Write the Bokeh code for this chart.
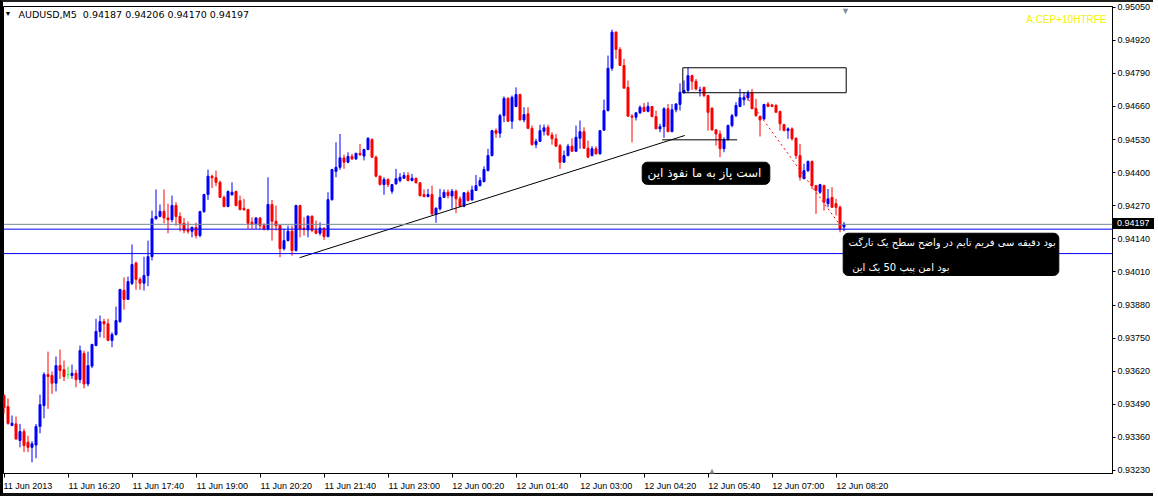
from bokeh.plotting import figure
from bokeh.models import (ColumnDataSource, Range1d, FixedTicker, PrintfTickFormatter,
                          Span, Label, BoxAnnotation, InlineStyleSheet)
from bokeh.embed import file_html
from bokeh.resources import INLINE

# ---------------- data (AUDUSD, M5, bars from 11 Jun 2013 15:00) ----------------
symbol = "AUDUSD,M5"
ea_name = "A:CEP+10HTRFE"

open_ = [
    0.93524, 0.93481, 0.93407, 0.93413, 0.93348, 0.93383, 0.93341, 0.93321, 0.93330, 0.93403,
    0.93485, 0.93607, 0.93603, 0.93573, 0.93642, 0.93626, 0.93607, 0.93603, 0.93612, 0.93587,
    0.93690, 0.93570, 0.93640, 0.93721, 0.93776, 0.93815, 0.93806, 0.93741, 0.93764, 0.93815,
    0.93938, 0.93902, 0.93965, 0.94045, 0.93981, 0.93966, 0.93996, 0.94070, 0.94219, 0.94228,
    0.94248, 0.94222, 0.94215, 0.94271, 0.94228, 0.94201, 0.94175, 0.94170, 0.94185, 0.94153,
    0.94247, 0.94314, 0.94386, 0.94380, 0.94362, 0.94303, 0.94267, 0.94313, 0.94326, 0.94290,
    0.94260, 0.94255, 0.94205, 0.94199, 0.94222, 0.94192, 0.94179, 0.94275, 0.94209, 0.94192,
    0.94101, 0.94133, 0.94170, 0.94094, 0.94271, 0.94182, 0.94175, 0.94229, 0.94173, 0.94162,
    0.94182, 0.94149, 0.94294, 0.94405, 0.94421, 0.94458, 0.94441, 0.94464, 0.94454, 0.94476,
    0.94465, 0.94491, 0.94530, 0.94461, 0.94386, 0.94353, 0.94373, 0.94327, 0.94356, 0.94369,
    0.94378, 0.94389, 0.94369, 0.94378, 0.94360, 0.94314, 0.94306, 0.94314, 0.94236, 0.94258,
    0.94303, 0.94323, 0.94308, 0.94327, 0.94297, 0.94268, 0.94321, 0.94293, 0.94330, 0.94349,
    0.94365, 0.94408, 0.94467, 0.94565, 0.94555, 0.94624, 0.94692, 0.94602, 0.94660, 0.94707,
    0.94607, 0.94631, 0.94574, 0.94510, 0.94523, 0.94563, 0.94578, 0.94548, 0.94533, 0.94506,
    0.94441, 0.94467, 0.94504, 0.94484, 0.94535, 0.94561, 0.94496, 0.94467, 0.94494, 0.94474,
    0.94567, 0.94644, 0.94810, 0.94952, 0.94884, 0.94821, 0.94735, 0.94622, 0.94618, 0.94635,
    0.94657, 0.94641, 0.94660, 0.94620, 0.94572, 0.94581, 0.94651, 0.94561, 0.94647, 0.94668,
    0.94714, 0.94723, 0.94781, 0.94759, 0.94722, 0.94735, 0.94703, 0.94653, 0.94568, 0.94552,
    0.94494, 0.94530, 0.94585, 0.94624, 0.94660, 0.94686, 0.94694, 0.94713, 0.94651, 0.94620,
    0.94611, 0.94670, 0.94666, 0.94664, 0.94640, 0.94589, 0.94565, 0.94572, 0.94535, 0.94467,
    0.94376, 0.94408, 0.94444, 0.94349, 0.94323, 0.94349, 0.94278, 0.94303, 0.94278, 0.94264,
    0.94187,
]
high_ = [
    0.93530, 0.93513, 0.93446, 0.93442, 0.93413, 0.93394, 0.93367, 0.93345, 0.93413, 0.93528,
    0.93616, 0.93697, 0.93619, 0.93678, 0.93705, 0.93662, 0.93638, 0.93646, 0.93626, 0.93721,
    0.93701, 0.93697, 0.93728, 0.93826, 0.93839, 0.93826, 0.93826, 0.93773, 0.93874, 0.93944,
    0.93989, 0.93992, 0.94118, 0.94051, 0.93989, 0.94070, 0.94133, 0.94251, 0.94334, 0.94275,
    0.94334, 0.94278, 0.94310, 0.94284, 0.94244, 0.94222, 0.94208, 0.94188, 0.94203, 0.94250,
    0.94317, 0.94412, 0.94392, 0.94408, 0.94369, 0.94310, 0.94330, 0.94362, 0.94330, 0.94310,
    0.94297, 0.94258, 0.94225, 0.94225, 0.94225, 0.94201, 0.94382, 0.94293, 0.94271, 0.94194,
    0.94179, 0.94192, 0.94192, 0.94274, 0.94274, 0.94225, 0.94232, 0.94232, 0.94212, 0.94205,
    0.94185, 0.94323, 0.94415, 0.94519, 0.94552, 0.94471, 0.94480, 0.94474, 0.94478, 0.94513,
    0.94494, 0.94539, 0.94535, 0.94467, 0.94389, 0.94382, 0.94378, 0.94356, 0.94415, 0.94398,
    0.94402, 0.94402, 0.94395, 0.94380, 0.94362, 0.94334, 0.94336, 0.94349, 0.94264, 0.94336,
    0.94334, 0.94334, 0.94336, 0.94334, 0.94307, 0.94323, 0.94330, 0.94349, 0.94391, 0.94382,
    0.94425, 0.94494, 0.94568, 0.94574, 0.94631, 0.94699, 0.94696, 0.94703, 0.94735, 0.94710,
    0.94657, 0.94657, 0.94585, 0.94533, 0.94588, 0.94589, 0.94588, 0.94559, 0.94552, 0.94513,
    0.94487, 0.94513, 0.94535, 0.94585, 0.94605, 0.94578, 0.94526, 0.94504, 0.94504, 0.94565,
    0.94687, 0.94860, 0.94962, 0.94955, 0.94893, 0.94847, 0.94762, 0.94630, 0.94637, 0.94664,
    0.94674, 0.94677, 0.94662, 0.94644, 0.94592, 0.94657, 0.94670, 0.94670, 0.94672, 0.94751,
    0.94762, 0.94812, 0.94785, 0.94768, 0.94738, 0.94738, 0.94706, 0.94657, 0.94572, 0.94565,
    0.94539, 0.94589, 0.94631, 0.94677, 0.94729, 0.94716, 0.94723, 0.94729, 0.94690, 0.94624,
    0.94670, 0.94677, 0.94670, 0.94670, 0.94644, 0.94592, 0.94578, 0.94578, 0.94539, 0.94513,
    0.94435, 0.94448, 0.94448, 0.94352, 0.94356, 0.94353, 0.94336, 0.94343, 0.94297, 0.94271,
    0.94206,
]
low_ = [
    0.93454, 0.93410, 0.93404, 0.93350, 0.93321, 0.93302, 0.93302, 0.93262, 0.93278, 0.93376,
    0.93435, 0.93472, 0.93531, 0.93541, 0.93590, 0.93581, 0.93590, 0.93590, 0.93557, 0.93573,
    0.93553, 0.93561, 0.93632, 0.93718, 0.93753, 0.93750, 0.93738, 0.93714, 0.93760, 0.93810,
    0.93862, 0.93900, 0.93958, 0.93940, 0.93940, 0.93937, 0.93954, 0.94055, 0.94215, 0.94225,
    0.94201, 0.94162, 0.94205, 0.94192, 0.94169, 0.94162, 0.94160, 0.94146, 0.94142, 0.94146,
    0.94242, 0.94293, 0.94339, 0.94347, 0.94301, 0.94264, 0.94264, 0.94310, 0.94267, 0.94252,
    0.94251, 0.94179, 0.94179, 0.94179, 0.94179, 0.94173, 0.94173, 0.94133, 0.94173, 0.94068,
    0.94094, 0.94130, 0.94074, 0.94090, 0.94146, 0.94153, 0.94146, 0.94166, 0.94158, 0.94153,
    0.94136, 0.94146, 0.94290, 0.94382, 0.94411, 0.94415, 0.94437, 0.94450, 0.94450, 0.94467,
    0.94448, 0.94488, 0.94458, 0.94382, 0.94350, 0.94313, 0.94343, 0.94317, 0.94353, 0.94362,
    0.94376, 0.94366, 0.94366, 0.94358, 0.94306, 0.94303, 0.94303, 0.94232, 0.94203, 0.94251,
    0.94300, 0.94299, 0.94258, 0.94241, 0.94264, 0.94264, 0.94288, 0.94290, 0.94328, 0.94346,
    0.94362, 0.94405, 0.94464, 0.94537, 0.94537, 0.94598, 0.94600, 0.94572, 0.94657, 0.94605,
    0.94598, 0.94572, 0.94506, 0.94496, 0.94520, 0.94546, 0.94546, 0.94510, 0.94502, 0.94415,
    0.94439, 0.94464, 0.94483, 0.94483, 0.94494, 0.94494, 0.94457, 0.94464, 0.94471, 0.94471,
    0.94565, 0.94640, 0.94800, 0.94847, 0.94819, 0.94730, 0.94620, 0.94519, 0.94605, 0.94631,
    0.94638, 0.94637, 0.94618, 0.94572, 0.94559, 0.94537, 0.94559, 0.94559, 0.94637, 0.94644,
    0.94710, 0.94716, 0.94725, 0.94723, 0.94699, 0.94696, 0.94565, 0.94565, 0.94506, 0.94461,
    0.94480, 0.94526, 0.94578, 0.94618, 0.94657, 0.94664, 0.94683, 0.94651, 0.94620, 0.94542,
    0.94607, 0.94657, 0.94657, 0.94637, 0.94565, 0.94563, 0.94533, 0.94526, 0.94454, 0.94369,
    0.94376, 0.94402, 0.94336, 0.94238, 0.94317, 0.94251, 0.94264, 0.94262, 0.94232, 0.94166,
    0.94170,
]
close_ = [
    0.93477, 0.93415, 0.93416, 0.93354, 0.93383, 0.93328, 0.93321, 0.93335, 0.93403, 0.93489,
    0.93607, 0.93599, 0.93573, 0.93642, 0.93623, 0.93599, 0.93607, 0.93612, 0.93587, 0.93701,
    0.93570, 0.93642, 0.93725, 0.93776, 0.93815, 0.93806, 0.93741, 0.93764, 0.93819, 0.93941,
    0.93902, 0.93972, 0.94039, 0.93981, 0.93966, 0.93996, 0.94070, 0.94219, 0.94228, 0.94248,
    0.94222, 0.94215, 0.94271, 0.94228, 0.94201, 0.94173, 0.94170, 0.94185, 0.94153, 0.94247,
    0.94314, 0.94386, 0.94380, 0.94362, 0.94303, 0.94267, 0.94326, 0.94323, 0.94271, 0.94255,
    0.94254, 0.94201, 0.94199, 0.94222, 0.94192, 0.94179, 0.94275, 0.94209, 0.94192, 0.94101,
    0.94133, 0.94170, 0.94094, 0.94271, 0.94179, 0.94177, 0.94229, 0.94173, 0.94162, 0.94182,
    0.94149, 0.94294, 0.94412, 0.94421, 0.94458, 0.94441, 0.94464, 0.94454, 0.94476, 0.94470,
    0.94491, 0.94535, 0.94461, 0.94386, 0.94353, 0.94373, 0.94353, 0.94353, 0.94376, 0.94382,
    0.94389, 0.94369, 0.94378, 0.94360, 0.94310, 0.94306, 0.94314, 0.94238, 0.94260, 0.94303,
    0.94323, 0.94310, 0.94327, 0.94297, 0.94268, 0.94321, 0.94290, 0.94332, 0.94349, 0.94369,
    0.94412, 0.94467, 0.94565, 0.94555, 0.94624, 0.94692, 0.94602, 0.94696, 0.94707, 0.94607,
    0.94628, 0.94574, 0.94510, 0.94523, 0.94565, 0.94576, 0.94548, 0.94533, 0.94504, 0.94441,
    0.94467, 0.94504, 0.94484, 0.94539, 0.94561, 0.94496, 0.94461, 0.94494, 0.94474, 0.94565,
    0.94644, 0.94810, 0.94952, 0.94884, 0.94821, 0.94732, 0.94622, 0.94618, 0.94635, 0.94657,
    0.94641, 0.94660, 0.94620, 0.94572, 0.94581, 0.94651, 0.94561, 0.94647, 0.94670, 0.94716,
    0.94723, 0.94781, 0.94759, 0.94729, 0.94725, 0.94703, 0.94637, 0.94568, 0.94552, 0.94494,
    0.94530, 0.94585, 0.94624, 0.94664, 0.94694, 0.94696, 0.94712, 0.94651, 0.94624, 0.94607,
    0.94668, 0.94660, 0.94660, 0.94637, 0.94592, 0.94565, 0.94572, 0.94533, 0.94467, 0.94382,
    0.94408, 0.94444, 0.94349, 0.94330, 0.94353, 0.94284, 0.94297, 0.94264, 0.94264, 0.94179,
    0.94197,
]

price_ticks = [0.93230, 0.93360, 0.93490, 0.93620, 0.93750, 0.93880, 0.94010, 0.94140,
               0.94270, 0.94400, 0.94530, 0.94660, 0.94790, 0.94920, 0.95050]
time_labels = ["11 Jun 2013", "11 Jun 16:20", "11 Jun 17:40", "11 Jun 19:00", "11 Jun 20:20",
               "11 Jun 21:40", "11 Jun 23:00", "12 Jun 00:20", "12 Jun 01:40", "12 Jun 03:00",
               "12 Jun 04:20", "12 Jun 05:40", "12 Jun 07:00", "12 Jun 08:20"]
time_label_bars = [0, 16, 32, 48, 64, 80, 96, 112, 128, 144, 160, 176, 192, 208]

last_price = 0.94197
level_lines = [0.94178, 0.94082]

# drawn objects (bar index, price)
trend_x = [73.9, 170.2]
trend_y = [0.94066, 0.94546]
zone_box = dict(left=169.7, right=210.55, top=0.94812, bottom=0.94714)
flat_x = [164.55, 183.3]
flat_y = [0.94529, 0.94529]
drop_x = [185.4, 209.6]
drop_y = [0.94703, 0.94181]

note1 = "این نفوذ ما به پاز است"
note2_line1 = "تارگت یک سطح واضح در تایم فریم سی دقیقه بود"
note2_line2 = "این یک 50 پیپ امن بود"
note1_box = dict(left=159.55, right=191.45, top=0.94441, bottom=0.94354)
note1_pos = (160.9, 0.94397)
note2_box = dict(left=209.8, right=263.7, top=0.94162, bottom=0.93996)
note2_pos1 = (211.1, 0.94126)
note2_pos2 = (212.05, 0.94029)

assert len(open_) == len(high_) == len(low_) == len(close_)

# ---------------- figure ----------------
FRAME_W, FRAME_H = 1109, 467
BORDER_TOP = 4
X_START = -0.125
X_END = X_START + FRAME_W / 4.0
Y0, Y1 = 0.932182, 0.950527

n = len(open_)
colors = ["#0000FF" if c > o else ("#FF0000" if c < o else "#00FF00")
          for o, c in zip(open_, close_)]
src = ColumnDataSource(dict(
    x=list(range(n)), h=high_, l=low_,
    top=[max(o, c) for o, c in zip(open_, close_)],
    bottom=[min(o, c) for o, c in zip(open_, close_)],
    color=colors,
))

# current price tag on the price scale (sits outside the plot frame)
tag_center = BORDER_TOP + (Y1 - last_price) / (Y1 - Y0) * FRAME_H
tag_css = InlineStyleSheet(css=f""":host::after {{
  content: "{last_price:.5f}";
  position: absolute;
  left: {FRAME_W + 1}px;
  top: {tag_center - 5.5:.1f}px;
  height: 11px;
  line-height: 11px;
  padding: 0 4px;
  background: #000000;
  color: #ffffff;
  font-family: "Liberation Sans", sans-serif;
  font-size: 9px;
  z-index: 10;
}}""")

p = figure(frame_width=FRAME_W, frame_height=FRAME_H,
           x_range=Range1d(X_START, X_END), y_range=Range1d(Y0, Y1),
           y_axis_location="right", toolbar_location=None, output_backend="svg",
           min_border_left=0, min_border_top=BORDER_TOP, min_border_right=38,
           min_border_bottom=19,
           styles={"border-left": "3px solid #000000", "border-top": "2px solid #202020",
                   "border-bottom": "3px solid #101010"},
           stylesheets=[tag_css])
p.background_fill_color = "white"
p.border_fill_color = "white"
p.outline_line_color = "black"
p.outline_line_width = 1
p.grid.visible = False

# axes (MT4 puts each time label to the right of its tick)
NB = "\u00a0"
def tlabel(b, lab):
    if b == time_label_bars[0]:
        return lab
    return NB * (21 if ":" in lab else 20) + lab
p.xaxis.ticker = FixedTicker(ticks=time_label_bars)
p.xaxis.major_label_overrides = {b: tlabel(b, lab) for b, lab in zip(time_label_bars, time_labels)}
p.xaxis.major_tick_out = 4
p.xaxis.major_label_standoff = 3
p.yaxis.ticker = FixedTicker(ticks=price_ticks)
p.yaxis.formatter = PrintfTickFormatter(format="%.5f")
p.yaxis.major_tick_out = 3
p.yaxis.major_label_standoff = 2
for ax in (p.xaxis[0], p.yaxis[0]):
    ax.axis_line_color = "black"
    ax.major_tick_line_color = "black"
    ax.major_tick_in = 0
    ax.minor_tick_line_color = None
    ax.major_label_text_font = "Liberation Sans"
    ax.major_label_text_font_size = "9px"
    ax.major_label_text_color = "black"

# candles
p.segment(x0="x", y0="h", x1="x", y1="l", line_color="color", line_width=1, source=src)
p.vbar(x="x", width=0.5, top="top", bottom="bottom", fill_color="color",
       line_color="color", line_width=1, source=src)

# horizontal levels
for lv in level_lines:
    p.add_layout(Span(location=lv, dimension="width", line_color="#0000FF", line_width=1))
p.add_layout(Span(location=last_price, dimension="width", line_color="#778899", line_width=1))

# drawn objects
p.line(trend_x, trend_y, line_color="black", line_width=1)
p.line(flat_x, flat_y, line_color="black", line_width=1)
p.add_layout(BoxAnnotation(fill_color=None, fill_alpha=0, line_color="black",
                           line_alpha=1, line_width=1, **zone_box))
p.line(drop_x, drop_y, line_color="#FF0000", line_width=1, line_dash="2 3")

# notes (the terminal lays the Persian words out left-to-right: LRM marks keep
# that word order while each word is still shaped right-to-left)
for bx in (note1_box, note2_box):
    p.add_layout(BoxAnnotation(fill_color="black", fill_alpha=1, line_color="black",
                               line_alpha=1, border_radius=5, **bx))
LRM = "\u200e"
def note(pos, txt, size):
    shown = LRM + (LRM + " ").join(txt.split(" ")) + LRM
    p.add_layout(Label(x=pos[0], y=pos[1], text=shown,
                       text_color="white", text_font="DejaVu Sans", text_font_size=size,
                       text_align="left", text_baseline="middle"))
note(note1_pos, note1, "12px")
note(note2_pos1, note2_line1, "10px")
note(note2_pos2, note2_line2, "10px")

# header texts (screen units, relative to the frame)
p.add_layout(Label(x=4.5, y=460, x_units="screen", y_units="screen", text="\u25BC",
                   text_color="black", text_font_size="7px", text_align="center",
                   text_baseline="middle"))
hdr = f"{symbol}\u00a0 {open_[-1]:.5f} {high_[-1]:.5f} {low_[-1]:.5f} {close_[-1]:.5f}"
p.add_layout(Label(x=15, y=459, x_units="screen", y_units="screen", text=hdr,
                   text_color="black", text_font="DejaVu Sans", text_font_size="9.5px",
                   text_baseline="middle"))
p.add_layout(Label(x=1103, y=454, x_units="screen", y_units="screen", text=ea_name,
                   text_color="#F2F200", text_font="Liberation Sans", text_font_size="10px",
                   text_align="right", text_baseline="middle"))
# shift markers
p.add_layout(Label(x=842, y=463, x_units="screen", y_units="screen", text="\u25BC",
                   text_color="#7F8FA0", text_font_size="9px", text_align="center",
                   text_baseline="middle"))
p.add_layout(Label(x=708.5, y=3, x_units="screen", y_units="screen", text="\u25B2",
                   text_color="#7F8FA0", text_font_size="9px", text_align="center",
                   text_baseline="middle"))

open("out.html", "w").write(file_html(p, INLINE))
